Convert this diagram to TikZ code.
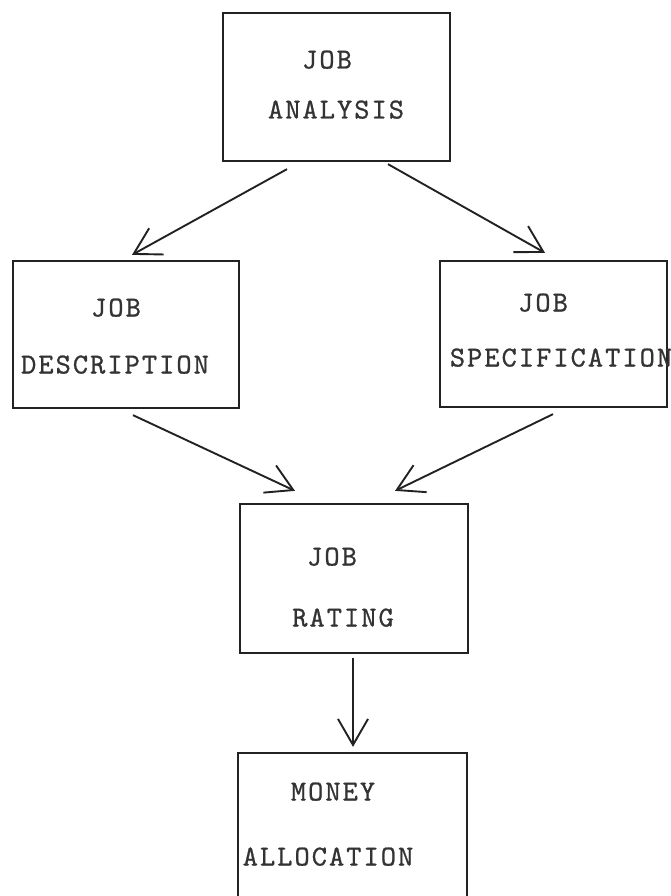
\documentclass[tikz,border=0pt]{standalone}
\usepackage{fontspec}
\usetikzlibrary{arrows.meta}
\newfontfamily\typew{lmmono10-regular}[Extension=.otf, LetterSpace=7, FakeBold=0.8]
\definecolor{ink}{HTML}{222222}
\definecolor{typeink}{HTML}{333333}
\begin{document}
\begin{tikzpicture}[x=1pt, y=-1pt,
  box/.style={draw=ink, line width=2.3pt, inner sep=0pt},
  lbl/.style={inner sep=0pt, text=typeink, font=\typew\fontsize{29}{33}\selectfont, text height=17pt, text depth=0pt},
  arr/.style={draw=ink, line width=1.9pt, -{Straight Barb[length=26pt, width=30pt]}}]
\useasboundingbox (0,0) rectangle (671,896);
% boxes
\node[box, minimum width=227pt, minimum height=148pt] (ana) at (336.5,87) {};
\node[box, minimum width=226pt, minimum height=147pt] (desc) at (126,334.5) {};
\node[box, minimum width=227pt, minimum height=146pt] (spec) at (553.5,334) {};
\node[box, minimum width=228pt, minimum height=149pt] (rat) at (354,578.5) {};
\node[box, minimum width=229pt, minimum height=144pt] (mon) at (352.5,825) {};
% texts
\node[lbl] (anaA) at (327,60) {JOB};
\node[lbl] (anaB) at (336,110) {ANALYSIS};
\node[lbl] (descA) at (116,308) {JOB};
\node[lbl] (descB) at (115,365) {DESCRIPTION};
\node[lbl] (specA) at (543,303) {JOB};
\node[lbl] (specB) at (561,358) {SPECIFICATION};
\node[lbl] (ratA) at (332,557) {JOB};
\node[lbl] (ratB) at (343,618) {RATING};
\node[lbl] (monA) at (333,792) {MONEY};
\node[lbl] (monB) at (328,857) {ALLOCATION};
% connectors
\draw[arr] ([shift={(-49.5,7)}]ana.south) -- ([shift={(6,-5)}]desc.north);
\draw[arr] ([shift={(51.5,2)}]ana.south) -- ([shift={(-8.5,-7)}]spec.north);
\draw[arr] ([shift={(7,6)}]desc.south) -- ([shift={(-59,-12)}]rat.north);
\draw[arr] ([shift={(-0.5,6)}]spec.south) -- ([shift={(41,-12)}]rat.north);
\draw[arr] ([shift={(-1,4)}]rat.south) -- ([shift={(0.5,-5)}]mon.north);
\end{tikzpicture}
\end{document}
